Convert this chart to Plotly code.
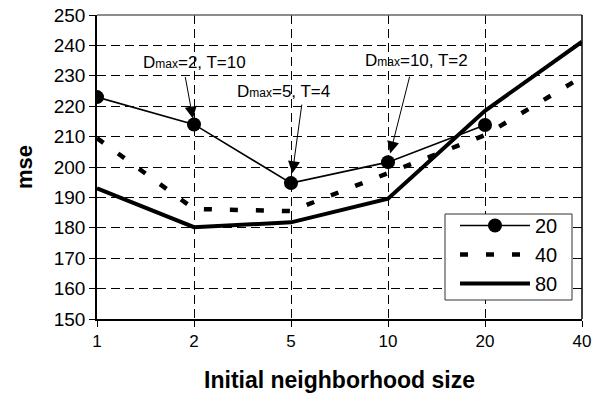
import plotly.graph_objects as go

categories = ["1", "2", "5", "10", "20", "40"]
s20 = [223, 214, 194.7, 201.6, 213.8, None]
s40 = [209.5, 186.2, 185.5, 198.0, 210.5, 229.6]
s80 = [193, 180.2, 181.8, 189.6, 218.5, 241.2]

annot_labels = ["D<span style='font-size:12px'>max</span>=2, T=10",
                "D<span style='font-size:12px'>max</span>=5, T=4",
                "D<span style='font-size:12px'>max</span>=10, T=2"]
annot_idx = [1, 2, 3]          # which point of series "20" each note points at
annot_text_x = [1.0, 1.92, 3.29]
annot_text_y = [234.5, 225.0, 234.9]
arrow_tail = [(-9, -49), (11, -80), (22, -87)]
arrow_standoff = [6, 10, 9]

xs = list(range(len(categories)))
FONT = "Liberation Sans, Arial, sans-serif"
GRID_DASH = "9px,5px"

fig = go.Figure()
fig.add_trace(go.Scatter(x=xs, y=s20, name="20", mode="lines+markers",
                         line=dict(color="black", width=1.6),
                         marker=dict(color="black", size=14, symbol="circle")))
fig.add_trace(go.Scatter(x=xs, y=s40, name="40", mode="lines",
                         line=dict(color="black", width=4.5, dash="8px,18px")))
fig.add_trace(go.Scatter(x=xs, y=s80, name="80", mode="lines",
                         line=dict(color="black", width=4)))

for lab, tx, ty in zip(annot_labels, annot_text_x, annot_text_y):
    fig.add_annotation(x=tx, y=ty, text=lab, showarrow=False,
                       font=dict(family=FONT, size=17, color="black"))

for i, (ax, ay), so in zip(annot_idx, arrow_tail, arrow_standoff):
    fig.add_annotation(x=xs[i], y=s20[i], text="", showarrow=True,
                       arrowhead=2, arrowsize=2.4, arrowwidth=1, arrowcolor="black",
                       standoff=so, ax=ax, ay=ay)

# legend frame
fig.add_shape(type="rect", xref="paper", yref="paper",
              x0=(445 - 97) / 485, x1=(572 - 97) / 485,
              y0=(319 - 300) / 304, y1=(319 - 214) / 304,
              line=dict(color="#333", width=1), fillcolor="white", layer="above")

fig.update_layout(
    width=600, height=395,
    margin=dict(l=97, r=18, t=15, b=76),
    paper_bgcolor="white", plot_bgcolor="white",
    font=dict(family=FONT, color="black"),
    showlegend=True,
    legend=dict(x=(455 - 97) / 485, y=(319 - 206) / 304, xanchor="left", yanchor="top",
                borderwidth=0, bgcolor="rgba(0,0,0,0)",
                font=dict(size=20, family=FONT), tracegroupgap=0,
                itemwidth=70),
    xaxis=dict(range=[0, 5], tickmode="array", tickvals=xs, ticktext=categories,
               showgrid=True, gridcolor="black", gridwidth=1, griddash=GRID_DASH,
               showline=True, linecolor="black", linewidth=1.5, mirror=False,
               ticks="outside", ticklen=6, tickcolor="black", automargin=False,
               tickfont=dict(size=17), zeroline=False,
               title=dict(text="<b>Initial neighborhood size</b>", font=dict(size=23), standoff=22)),
    yaxis=dict(range=[150, 250], dtick=10,
               showgrid=True, gridcolor="black", gridwidth=1, griddash=GRID_DASH,
               showline=True, linecolor="black", linewidth=1.5, automargin=False,
               ticks="outside", ticklen=6, tickcolor="black",
               tickfont=dict(size=19), zeroline=False,
               title=dict(text="<b>mse</b>", font=dict(size=22), standoff=15)),
)
fig.add_shape(type="line", xref="paper", yref="paper", x0=0, x1=1, y0=1, y1=1,
              line=dict(color="#666", width=1.5))
fig.add_shape(type="line", xref="paper", yref="paper", x0=1, x1=1, y0=0, y1=1,
              line=dict(color="black", width=1.5))

fig.write_html("out.html")
